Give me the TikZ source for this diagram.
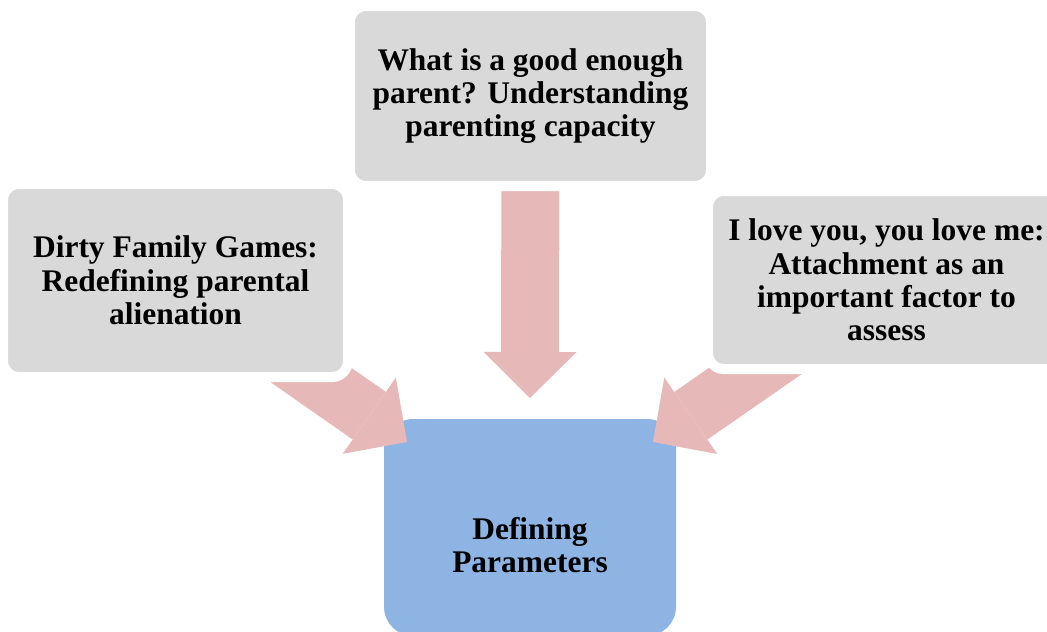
\documentclass[tikz,border=0pt]{standalone}
\usepackage{fontspec}
\setmainfont{Liberation Serif}
\usetikzlibrary{arrows.meta}
\definecolor{boxgray}{HTML}{D9D9D9}
\definecolor{arrowpink}{HTML}{E6B9B8}
\definecolor{goalblue}{HTML}{8EB4E3}
\pgfdeclarelayer{bottom}
\pgfdeclarelayer{mid}
\pgfsetlayers{bottom,mid,main}

\begin{document}
\begin{tikzpicture}[x=0.75pt,y=-0.75pt,
  topic/.style={fill=boxgray,draw=white,line width=7.5pt,rounded corners=12pt,inner sep=0pt,
    align=center,font=\fontsize{23.6}{25}\selectfont\bfseries},
  goal/.style={fill=goalblue,rounded corners=22pt,inner sep=0pt},
  flow/.style={draw=arrowpink,line width=43.5pt,-{Triangle[length=34.5pt,width=69.75pt,line width=0pt]}}]
\useasboundingbox (0,0) rectangle (1047,632);

% the three topics
\node[topic,minimum width=270.75pt,minimum height=135pt] (parent) at (530.5,96)
  {What is a good enough\\parent? Understanding\\parenting capacity};
\node[topic,minimum width=258.75pt,minimum height=144.75pt] (games) at (175.5,280.5)
  {Dirty Family Games:\\Redefining parental\\alienation};
\node[topic,minimum width=267.75pt,minimum height=133.5pt] (attach) at (886.5,280)
  {I love you, you love me:\\Attachment as an\\important factor to\\assess};

% the goal box sits below everything
\begin{pgfonlayer}{bottom}
\node[goal,minimum width=219pt,minimum height=162.75pt,
  label={[name=paramtext,align=center,yshift=-13pt,font=\fontsize{23.6}{25}\selectfont\bfseries]center:Defining\\Parameters}]
  (params) at (530,527.5) {};
\end{pgfonlayer}

\coordinate (tipT) at (530,398);
\coordinate (tipL) at (407,442);
\coordinate (tipR) at (653,442);

\begin{pgfonlayer}{mid}
\draw[flow] (parent.center) -- (tipT);
\draw[flow] (games.center) -- (tipL);
\draw[flow] (attach.center) -- (tipR);
\end{pgfonlayer}
\end{tikzpicture}
\end{document}
